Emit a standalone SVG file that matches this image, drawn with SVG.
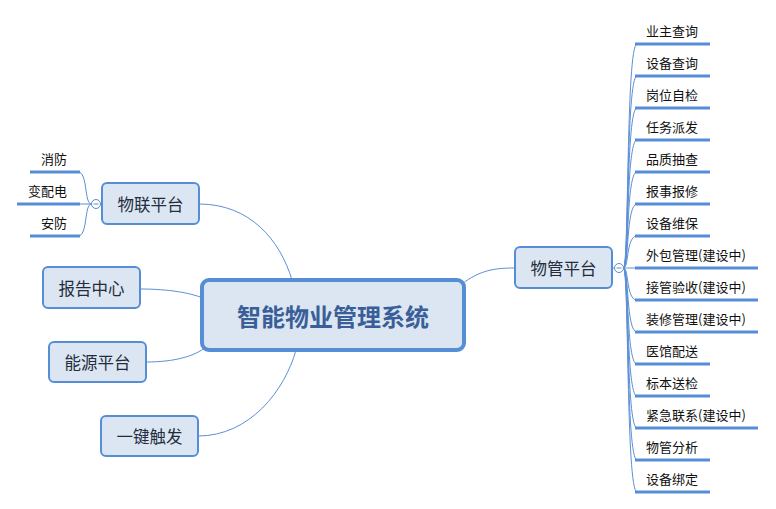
<svg xmlns="http://www.w3.org/2000/svg" width="776" height="509" viewBox="0 0 776 509">
<style>
.c{fill:none;stroke:#5b8fd6;stroke-width:1}
.u{stroke:#558ed5;stroke-width:3;fill:none}
.n{fill:#dce6f2;stroke:#558ed5;stroke-width:2}
.nt{font-family:"Microsoft YaHei","Noto Sans CJK SC",sans-serif;font-size:16.5px;fill:#1f2d3d;text-anchor:middle;dominant-baseline:central}
.lt{font-family:"Microsoft YaHei","Noto Sans CJK SC",sans-serif;font-size:13px;fill:#111;dominant-baseline:central}
.tg{fill:#fff;stroke:#558ed5;stroke-width:1}
.tm{stroke:#7a8ea8;stroke-width:1}
</style>
<rect width="776" height="509" fill="#fff"/>
<g id="connectors">
<path class="c" d="M199,204 C250,204 280,240 292,280"/>
<path class="c" d="M140,289 C170,289 190,293 203,298"/>
<path class="c" d="M146,362 C175,362 195,356 206,347"/>
<path class="c" d="M198,436 C250,436 285,390 296,350"/>
<path class="c" d="M462,284 C480,270 495,268 515,268"/>
<path class="c" d="M91.5,204 C84,204 88,172 78,172"/>
<path class="c" d="M91.5,204 L78,204"/>
<path class="c" d="M91.5,204 C84,204 88,236 78,236"/>
<path class="c" d="M623.5,268 C629,268 626,44 637,44"/>
<path class="c" d="M623.5,268 C629,268 626,76 637,76"/>
<path class="c" d="M623.5,268 C629,268 626,108 637,108"/>
<path class="c" d="M623.5,268 C629,268 626,140 637,140"/>
<path class="c" d="M623.5,268 C629,268 626,172 637,172"/>
<path class="c" d="M623.5,268 C629,268 626,204 637,204"/>
<path class="c" d="M623.5,268 C629,268 626,236 637,236"/>
<path class="c" d="M623.5,268 C629,268 626,268 637,268"/>
<path class="c" d="M623.5,268 C629,268 626,300 637,300"/>
<path class="c" d="M623.5,268 C629,268 626,332 637,332"/>
<path class="c" d="M623.5,268 C629,268 626,364 637,364"/>
<path class="c" d="M623.5,268 C629,268 626,396 637,396"/>
<path class="c" d="M623.5,268 C629,268 626,428 637,428"/>
<path class="c" d="M623.5,268 C629,268 626,460 637,460"/>
<path class="c" d="M623.5,268 C629,268 626,492 637,492"/>
<path class="c" d="M612,268 L615,268"/>
<path class="c" d="M100.5,204 L102,204"/>
</g>
<g id="center">
<rect x="202" y="280" width="262" height="70" rx="7" fill="#dce6f2" stroke="#558ed5" stroke-width="4"/>
<text x="333" y="315" style="font-family:'Microsoft YaHei','Noto Sans CJK SC',sans-serif;font-size:24px;font-weight:bold;fill:#3a5f98;text-anchor:middle;dominant-baseline:central">智能物业管理系统</text>
</g>
<g id="node-wulian">
<rect class="n" x="102" y="183" width="97" height="41" rx="5"/>
<text class="nt" x="150.5" y="203.5">物联平台</text>
</g>
<g id="node-baogao">
<rect class="n" x="43" y="267" width="97" height="41" rx="5"/>
<text class="nt" x="91.5" y="287.5">报告中心</text>
</g>
<g id="node-nengyuan">
<rect class="n" x="49" y="342" width="97" height="40" rx="5"/>
<text class="nt" x="97.5" y="362">能源平台</text>
</g>
<g id="node-yijian">
<rect class="n" x="101" y="416" width="97" height="40" rx="5"/>
<text class="nt" x="149.5" y="436">一键触发</text>
</g>
<g id="node-wuguan">
<rect class="n" x="515" y="247" width="97" height="41" rx="5"/>
<text class="nt" x="563.5" y="267.5">物管平台</text>
</g>
<g id="toggle-left">
<circle class="tg" cx="96" cy="204" r="4.5"/>
<line class="tm" x1="93.5" y1="204" x2="98.5" y2="204"/>
</g>
<g id="toggle-right">
<circle class="tg" cx="619" cy="268" r="4.5"/>
<line class="tm" x1="616.5" y1="268" x2="621.5" y2="268"/>
</g>
<g id="leaves-left">
<line class="u" x1="30" y1="172" x2="80" y2="172"/>
<text class="lt" x="67" y="158" text-anchor="end">消防</text>
<line class="u" x1="17" y1="204" x2="80" y2="204"/>
<text class="lt" x="67" y="190" text-anchor="end">变配电</text>
<line class="u" x1="30" y1="236" x2="80" y2="236"/>
<text class="lt" x="67" y="222" text-anchor="end">安防</text>
</g>
<g id="leaves-right">
<line class="u" x1="635" y1="44" x2="710" y2="44"/><text class="lt" x="646" y="30">业主查询</text>
<line class="u" x1="635" y1="76" x2="710" y2="76"/><text class="lt" x="646" y="62">设备查询</text>
<line class="u" x1="635" y1="108" x2="710" y2="108"/><text class="lt" x="646" y="94">岗位自检</text>
<line class="u" x1="635" y1="140" x2="710" y2="140"/><text class="lt" x="646" y="126">任务派发</text>
<line class="u" x1="635" y1="172" x2="710" y2="172"/><text class="lt" x="646" y="158">品质抽查</text>
<line class="u" x1="635" y1="204" x2="710" y2="204"/><text class="lt" x="646" y="190">报事报修</text>
<line class="u" x1="635" y1="236" x2="710" y2="236"/><text class="lt" x="646" y="222">设备维保</text>
<line class="u" x1="635" y1="268" x2="758" y2="268"/><text class="lt" x="646" y="254">外包管理(建设中)</text>
<line class="u" x1="635" y1="300" x2="758" y2="300"/><text class="lt" x="646" y="286">接管验收(建设中)</text>
<line class="u" x1="635" y1="332" x2="758" y2="332"/><text class="lt" x="646" y="318">装修管理(建设中)</text>
<line class="u" x1="635" y1="364" x2="710" y2="364"/><text class="lt" x="646" y="350">医馆配送</text>
<line class="u" x1="635" y1="396" x2="710" y2="396"/><text class="lt" x="646" y="382">标本送检</text>
<line class="u" x1="635" y1="428" x2="758" y2="428"/><text class="lt" x="646" y="414">紧急联系(建设中)</text>
<line class="u" x1="635" y1="460" x2="710" y2="460"/><text class="lt" x="646" y="446">物管分析</text>
<line class="u" x1="635" y1="492" x2="710" y2="492"/><text class="lt" x="646" y="478">设备绑定</text>
</g>
</svg>
